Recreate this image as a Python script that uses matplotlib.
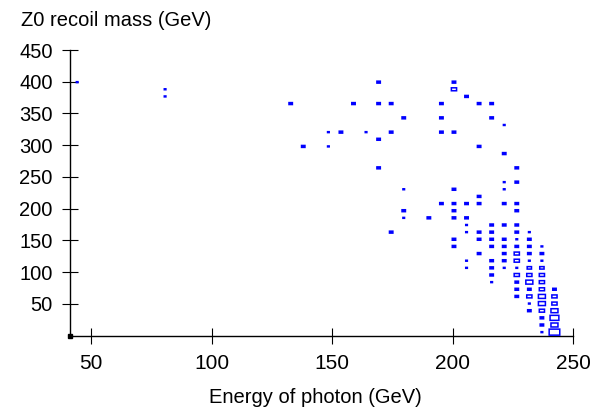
import numpy as np
import matplotlib.pyplot as plt
from matplotlib.patches import Rectangle
from matplotlib.collections import PatchCollection

plt.rcParams['font.family'] = ['Liberation Sans', 'DejaVu Sans']

# histogram binning (photon energy x Z0 recoil mass)
e_edges = np.linspace(0, 250, 49)
m_edges = np.linspace(0, 450, 41)

# non-empty cells: energy bin, mass bin, content
e_bin = [8, 32, 38,
         15, 38,
         15, 39,
         25, 30, 32, 33, 37, 40, 41,
         34, 37, 41,
         42,
         28, 29, 31, 33, 37, 38,
         32,
         26, 28, 40,
         42,
         32, 43,
         42, 43,
         34, 38, 42,
         40,
         37, 38, 39, 40, 42, 43,
         34, 38, 43,
         34, 36, 38, 39,
         39, 41, 42, 43,
         33, 39, 40, 41, 43, 44,
         38, 40, 41, 42, 43, 44,
         38, 41, 42, 43, 44, 45,
         40, 42, 43, 44, 45,
         39, 41, 42, 43, 44, 45,
         39, 41, 42, 43, 44, 45,
         41, 43, 44, 45,
         41, 43, 44, 45,
         43, 44, 45, 46,
         43, 44, 45, 46,
         44, 45, 46,
         44, 45, 46,
         45, 46,
         45, 46,
         45, 46]
m_bin = [35, 35, 35,
         34, 34,
         33, 33,
         32, 32, 32, 32, 32, 32, 32,
         30, 30, 30,
         29,
         28, 28, 28, 28, 28, 28,
         27,
         26, 26, 26,
         25,
         23, 23,
         21, 21,
         20, 20, 20,
         19,
         18, 18, 18, 18, 18, 18,
         17, 17, 17,
         16, 16, 16, 16,
         15, 15, 15, 15,
         14, 14, 14, 14, 14, 14,
         13, 13, 13, 13, 13, 13,
         12, 12, 12, 12, 12, 12,
         11, 11, 11, 11, 11,
         10, 10, 10, 10, 10, 10,
         9, 9, 9, 9, 9, 9,
         8, 8, 8, 8,
         7, 7, 7, 7,
         6, 6, 6, 6,
         5, 5, 5, 5,
         4, 4, 4,
         3, 3, 3,
         2, 2,
         1, 1,
         0, 0]
content = [1, 2, 2,
           1, 3,
           1, 2,
           2, 2, 2, 2, 2, 2, 2,
           2, 2, 2,
           1,
           1, 2, 1, 2, 2, 2,
           2,
           2, 1, 2,
           2,
           2, 2,
           1, 2,
           1, 2, 1,
           2,
           2, 2, 2, 2, 2, 2,
           2, 2, 2,
           1, 2, 2, 2,
           1, 2, 2, 2,
           2, 1, 2, 2, 2, 1,
           2, 2, 2, 2, 1, 2,
           2, 2, 2, 2, 2, 1,
           2, 2, 3, 2, 2,
           1, 2, 2, 3, 1, 1,
           1, 2, 1, 1, 2.5, 2.5,
           2, 3, 3, 3,
           1, 2, 4, 3,
           2, 2, 3, 2,
           2, 3, 4, 3,
           1, 4, 3,
           2, 3, 4,
           2, 5,
           2, 4,
           1, 6]

fig = plt.figure(figsize=(5.97, 4.08), dpi=100)
ax = fig.add_axes([70 / 597, 72.3 / 408, 503.3 / 597, 285.7 / 408])

e_c = 0.5 * (e_edges[:-1] + e_edges[1:])
m_c = 0.5 * (m_edges[:-1] + m_edges[1:])
de = e_edges[1] - e_edges[0]
dm = m_edges[1] - m_edges[0]

boxes = []
faces = []
for i, j, n in zip(e_bin, m_bin, content):
    f = (n - 0.1) / 7.0
    w = de * f
    h = dm * f
    boxes.append(Rectangle((e_c[i] - w / 2, m_c[j] - h / 2), w, h))
    # small boxes are closed up by their outline
    faces.append('#0000ff' if n <= 2 else 'none')
ax.add_collection(PatchCollection(boxes, facecolors=faces, edgecolor='#0000ff',
                                  linewidth=1.1, zorder=3, clip_on=False,
                                  snap=False, joinstyle='miter'))

ax.set_xlim(41.3, 250)
ax.set_ylim(0, 450)
ax.set_xticks([50, 100, 150, 200, 250])
ax.set_yticks([50, 100, 150, 200, 250, 300, 350, 400, 450])
ax.set_yticklabels(['50', '100', '150', '200', '250', '300', '350', '400', '450'])

for s in ['top', 'right']:
    ax.spines[s].set_visible(False)
for s in ['left', 'bottom']:
    ax.spines[s].set_linewidth(1.0)

ax.tick_params(axis='both', direction='inout', length=11.5, width=0.8)
ax.tick_params(axis='x', labelsize=15, pad=7.5)
ax.tick_params(axis='y', labelsize=14.5, pad=6.8)

# little square at the axis corner
ax.plot([0], [0], 's', color='black', ms=2.5, transform=ax.transAxes, clip_on=False)

fig.text(20.7 / 597, 1 - 26.1 / 408, 'Z0 recoil mass (GeV)', fontsize=14.5,
         ha='left', va='baseline')
fig.text(315 / 597, 5.3 / 408, 'Energy of photon (GeV)', fontsize=14.5,
         ha='center', va='baseline')

fig.savefig('out.png', dpi=100)
